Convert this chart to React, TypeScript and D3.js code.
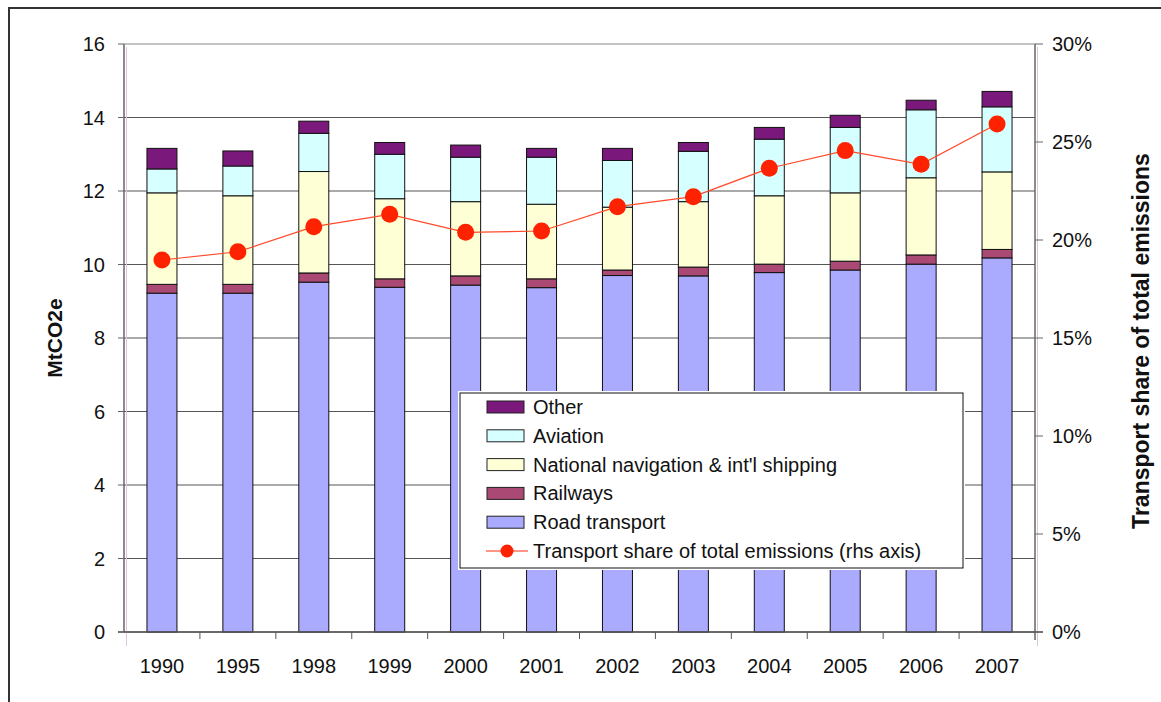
import React from "react";
import * as d3 from "d3";

// Transport emissions by mode (MtCO2e) and transport share of total emissions
const years = ["1990", "1995", "1998", "1999", "2000", "2001", "2002", "2003", "2004", "2005", "2006", "2007"];
const road = [9.22, 9.22, 9.52, 9.38, 9.44, 9.37, 9.7, 9.69, 9.78, 9.85, 10.01, 10.18];
const railways = [0.24, 0.24, 0.25, 0.23, 0.25, 0.24, 0.15, 0.24, 0.23, 0.24, 0.25, 0.23];
const navigation = [2.49, 2.41, 2.76, 2.18, 2.02, 2.03, 1.71, 1.78, 1.86, 1.86, 2.1, 2.11];
const aviation = [0.65, 0.81, 1.04, 1.21, 1.21, 1.28, 1.27, 1.37, 1.54, 1.78, 1.85, 1.77];
const other = [0.56, 0.41, 0.33, 0.32, 0.33, 0.24, 0.33, 0.24, 0.32, 0.33, 0.26, 0.42];
const transportShare = [0.1898, 0.194, 0.2068, 0.2131, 0.2039, 0.2046, 0.217, 0.2221, 0.2366, 0.2456, 0.2386, 0.2592];

const leftTicks = [0, 2, 4, 6, 8, 10, 12, 14, 16];
const rightTicks = [0, 0.05, 0.1, 0.15, 0.2, 0.25, 0.3];

const seriesKeys = ["road", "railways", "navigation", "aviation", "other"];
const seriesLabels: Record<string, string> = {
  road: "Road transport",
  railways: "Railways",
  navigation: "National navigation & int'l shipping",
  aviation: "Aviation",
  other: "Other",
};
const seriesColors: Record<string, string> = {
  road: "#aaaaff",
  railways: "#aa4a74",
  navigation: "#ffffd6",
  aviation: "#d6ffff",
  other: "#7b187b",
};

const rows = years.map((y, i) => ({
  year: y,
  road: road[i],
  railways: railways[i],
  navigation: navigation[i],
  aviation: aviation[i],
  other: other[i],
}));

const W = 1161;
const H = 702;
const plot = { left: 124, right: 1035, top: 44, bottom: 632 };
const FONT = "'Liberation Sans', Arial, sans-serif";
const FS = 20;

export default function App() {
  const x = d3.scaleBand<string>().domain(years).range([plot.left, plot.right]).paddingInner(0).paddingOuter(0);
  const barW = 30;
  const y = d3.scaleLinear().domain([0, 16]).range([plot.bottom, plot.top]);
  const yR = d3.scaleLinear().domain([0, 0.3]).range([plot.bottom, plot.top]);
  const stack = d3.stack<any>().keys(seriesKeys)(rows);
  const cx = (yr: string) => (x(yr) as number) + x.bandwidth() / 2;

  const line = d3
    .line<number>()
    .x((_, i) => cx(years[i]))
    .y((d) => yR(d));

  const legendItems = [...seriesKeys].reverse();
  const legend = { x: 460, y: 393, w: 503, h: 175 };
  const rowY = d3.scalePoint<number>().domain(d3.range(6)).range([407, 551]);

  return (
    <svg
      width={W}
      height={H}
      style={{ position: "absolute", left: 0, top: 0, background: "#fff" }}
      fontFamily={FONT}
    >
      {/* outer frame */}
      <path d={`M9,${H} V8 H${W}`} fill="none" stroke="#333" strokeWidth={2} />

      {/* gridlines */}
      {leftTicks.map((t) => (
        <line key={"g" + t} x1={plot.left} x2={plot.right} y1={y(t)} y2={y(t)} stroke={t === 16 ? "#888" : "#555"} strokeWidth={1} />
      ))}

      {/* stacked bars */}
      {stack.map((layer) => (
        <g key={layer.key}>
          {layer.map((d, i) => (
            <rect
              key={i}
              x={cx(years[i]) - barW / 2}
              y={y(d[1])}
              width={barW}
              height={y(d[0]) - y(d[1])}
              fill={seriesColors[layer.key]}
              stroke="#111"
              strokeWidth={1}
            />
          ))}
        </g>
      ))}

      {/* axes */}
      <line x1={plot.left} x2={plot.left} y1={plot.top} y2={plot.bottom} stroke="#666" strokeWidth={1.5} />
      <line x1={plot.left + 2.5} x2={plot.left + 2.5} y1={plot.top + 3} y2={plot.bottom + 14} stroke="#dcc6dc" strokeWidth={1} />
      <line x1={plot.right} x2={plot.right} y1={plot.top} y2={plot.bottom + 8} stroke="#666" strokeWidth={1.5} />
      <line x1={plot.right + 2.5} x2={plot.right + 2.5} y1={plot.top + 3} y2={plot.bottom + 14} stroke="#dcc6dc" strokeWidth={1} />
      <line x1={plot.left - 6} x2={plot.right + 8} y1={plot.bottom} y2={plot.bottom} stroke="#555" strokeWidth={1.5} />

      {leftTicks.map((t) => (
        <g key={"l" + t}>
          <line x1={plot.left - 6} x2={plot.left} y1={y(t)} y2={y(t)} stroke="#666" />
          <text x={plot.left - 19} y={y(t)} dy="0.35em" textAnchor="end" fontSize={FS} fill="#111">
            {t}
          </text>
        </g>
      ))}
      {rightTicks.map((t) => (
        <g key={"r" + t}>
          <line x1={plot.right} x2={plot.right + 8} y1={yR(t)} y2={yR(t)} stroke="#666" />
          <text x={plot.right + 17} y={yR(t)} dy="0.35em" textAnchor="start" fontSize={FS} fill="#111">
            {d3.format(".0%")(t)}
          </text>
        </g>
      ))}
      {years.map((yr, i) => (
        <g key={"x" + yr}>
          {i > 0 && <line x1={x(yr)} x2={x(yr)} y1={plot.bottom} y2={plot.bottom + 7} stroke="#555" />}
          <text x={cx(yr)} y={plot.bottom + 41} textAnchor="middle" fontSize={FS} fill="#111">
            {yr}
          </text>
        </g>
      ))}

      {/* axis titles */}
      <text transform={`translate(62,338) rotate(-90)`} textAnchor="middle" fontSize={21} fontWeight="bold" fill="#111">
        MtCO2e
      </text>
      <text transform={`translate(1149,341) rotate(-90)`} textAnchor="middle" fontSize={23} fontWeight="bold" fill="#111">
        Transport share of total emissions
      </text>

      {/* share line */}
      <path d={line(transportShare) || ""} fill="none" stroke="#ff4a2a" strokeWidth={1.2} />
      {transportShare.map((v, i) => (
        <circle key={"m" + i} cx={cx(years[i])} cy={yR(v)} r={8.5} fill="#ff2200" />
      ))}

      {/* legend */}
      <rect x={legend.x - 2} y={legend.y - 2} width={legend.w + 4} height={legend.h + 4} fill="#fff" />
      <rect x={legend.x} y={legend.y} width={legend.w} height={legend.h} fill="#fff" stroke="#111" strokeWidth={1} />
      {legendItems.map((k, i) => (
        <g key={"lg" + k}>
          <rect x={487} y={(rowY(i) as number) - 6} width={37} height={12} fill={seriesColors[k]} stroke="#222" strokeWidth={1} />
          <text x={533} y={rowY(i)} dy="0.35em" fontSize={FS} fill="#111">
            {seriesLabels[k]}
          </text>
        </g>
      ))}
      <g>
        <line x1={486} x2={528} y1={rowY(5)} y2={rowY(5)} stroke="#ff7060" strokeWidth={1.5} />
        <circle cx={507} cy={rowY(5)} r={6.5} fill="#ff2200" />
        <text x={533} y={rowY(5)} dy="0.35em" fontSize={FS} fill="#111">
          Transport share of total emissions (rhs axis)
        </text>
      </g>
    </svg>
  );
}
